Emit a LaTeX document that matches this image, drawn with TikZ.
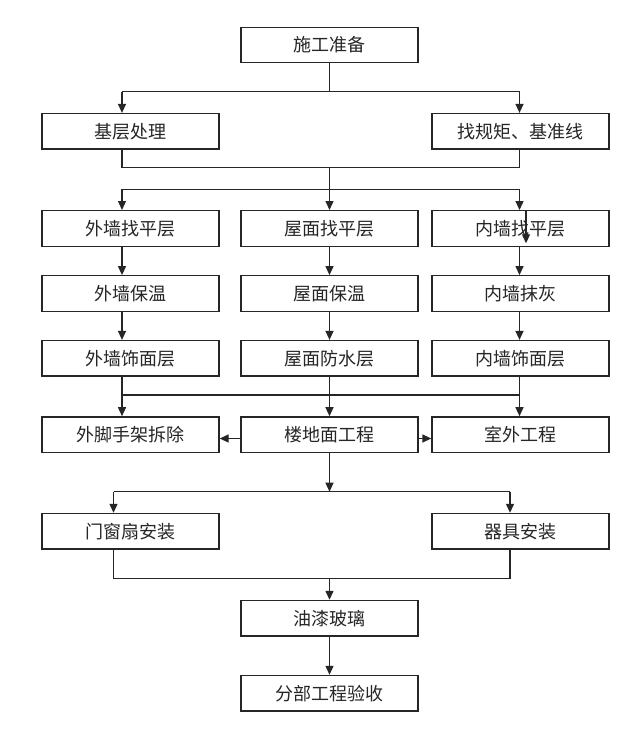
\documentclass[tikz,border=0pt]{standalone}
\usepackage{fontspec}
\setmainfont{Noto Sans CJK SC}
\usetikzlibrary{arrows.meta}
\begin{document}
\begin{tikzpicture}[x=1pt,y=-1pt,
  box/.style={draw=black!85, line width=1.3pt, minimum width=177pt, minimum height=35.5pt, inner sep=0pt, font=\fontsize{18}{21}\selectfont, text=black!85},
  conn/.style={draw=black!85, line width=1.3pt},
  arr/.style={conn, -{Triangle[length=9pt,width=8pt]}}]
\useasboundingbox (0,0) rectangle (640,746);
\fill[white] (0,0) rectangle (640,746);
% column guides
\coordinate (L) at (122,0);
\coordinate (M) at (329.5,0);
\coordinate (R) at (519.5,0);
\coordinate (L2) at (113.5,0);
\coordinate (R2) at (510,0);
\coordinate (X) at (526,0);
% horizontal levels
\coordinate (h1) at (0,91.7);
\coordinate (h2) at (0,167.7);
\coordinate (h3) at (0,189.3);
\coordinate (h4) at (0,395);
\coordinate (h5) at (0,491.7);
\coordinate (h6) at (0,578.3);
\coordinate (fy) at (0,438.5);
\coordinate (xe) at (526,243.3);
% nodes
\node[box] (a) at (329.5,45) {施工准备};
\node[box] (b1) at (130.5,131.3) {基层处理};
\node[box] (b2) at (520.5,131.3) {找规矩、基准线};
\node[box] (c1) at (130.5,228.4) {外墙找平层};
\node[box] (c2) at (329.5,228.4) {屋面找平层};
\node[box] (c3) at (520.5,228.4) {内墙找平层};
\node[box] (d1) at (130.5,293.5) {外墙保温};
\node[box] (d2) at (329.5,293.5) {屋面保温};
\node[box] (d3) at (520.5,293.5) {内墙抹灰};
\node[box] (e1) at (130.5,358.3) {外墙饰面层};
\node[box] (e2) at (329.5,358.3) {屋面防水层};
\node[box] (e3) at (520.5,358.3) {内墙饰面层};
\node[box] (f1) at (130.5,434.6) {外脚手架拆除};
\node[box] (f2) at (329.5,434.6) {楼地面工程};
\node[box] (f3) at (520.5,434.6) {室外工程};
\node[box] (g1) at (130.5,531.2) {门窗扇安装};
\node[box] (g2) at (520.5,531.2) {器具安装};
\node[box] (h) at (329.5,618.2) {油漆玻璃};
\node[box] (k) at (329.5,693.2) {分部工程验收};
% connectors
\draw[conn] (a.south -| M) -- (M |- h1);
\draw[conn] (L |- h1) -- (R |- h1);
\draw[arr] (L |- h1) -- (b1.north -| L);
\draw[arr] (R |- h1) -- (b2.north -| R);
\draw[conn] (b1.south -| L) -- (L |- h2) -- (R |- h2) -- (b2.south -| R);
\draw[conn] (M |- h2) -- (M |- h3);
\draw[conn] (L |- h3) -- (R |- h3);
\draw[arr] (L |- h3) -- (c1.north -| L);
\draw[arr] (M |- h3) -- (c2.north -| M);
\draw[arr] (R |- h3) -- (c3.north -| R);
\draw[arr] (c3.north -| X) -- (xe);
\draw[arr] (c1.south -| L) -- (d1.north -| L);
\draw[arr] (c2.south -| M) -- (d2.north -| M);
\draw[arr] (c3.south -| R) -- (d3.north -| R);
\draw[arr] (d1.south -| L) -- (e1.north -| L);
\draw[arr] (d2.south -| M) -- (e2.north -| M);
\draw[arr] (d3.south -| R) -- (e3.north -| R);
\draw[arr] (e1.south -| L) -- (f1.north -| L);
\draw[arr] (e2.south -| M) -- (f2.north -| M);
\draw[arr] (e3.south -| R) -- (f3.north -| R);
\draw[conn] (L |- h4) -- (R |- h4);
\draw[arr] (f2.west |- fy) -- (f1.east |- fy);
\draw[arr] (f2.east |- fy) -- (f3.west |- fy);
\draw[arr] (f2.south -| M) -- (M |- h5);
\draw[conn] (L2 |- h5) -- (R2 |- h5);
\draw[arr] (L2 |- h5) -- (g1.north -| L2);
\draw[arr] (R2 |- h5) -- (g2.north -| R2);
\draw[conn] (g1.south -| L2) -- (L2 |- h6) -- (R2 |- h6) -- (g2.south -| R2);
\draw[arr] (M |- h6) -- (h.north -| M);
\draw[arr] (h.south -| M) -- (k.north -| M);
\end{tikzpicture}
\end{document}
